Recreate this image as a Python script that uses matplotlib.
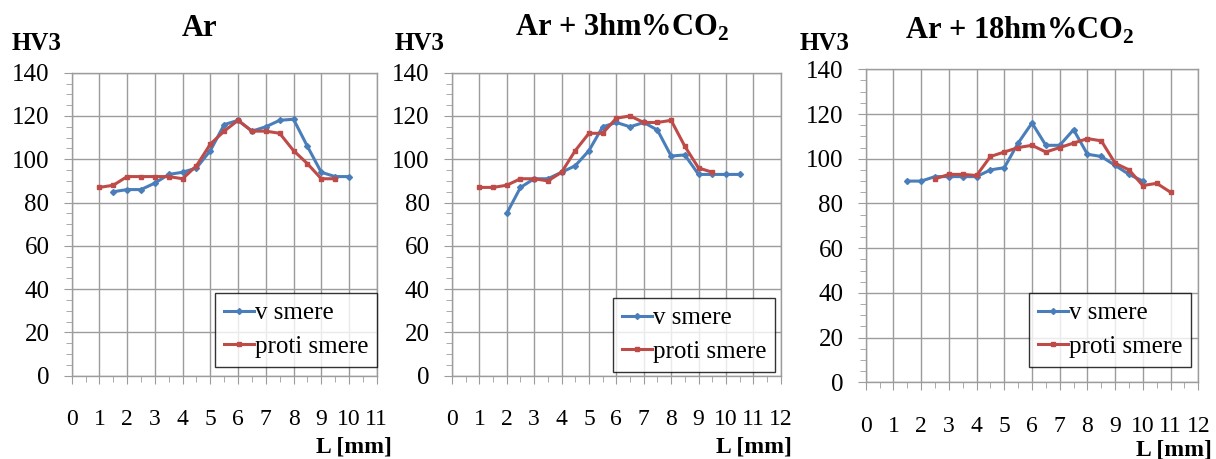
import numpy as np
import matplotlib
matplotlib.use("Agg")
import matplotlib.pyplot as plt
from matplotlib.ticker import MultipleLocator

plt.rcParams['font.family'] = ['Liberation Serif', 'DejaVu Serif']
plt.rcParams['mathtext.fontset'] = 'custom'
plt.rcParams['mathtext.rm'] = 'Liberation Serif'
plt.rcParams['mathtext.bf'] = 'Liberation Serif:bold'

# --- data ---
titles = ['Ar', r'Ar + 3hm%CO$_{\mathbf{2}}$', r'Ar + 18hm%CO$_{\mathbf{2}}$']
xmax = [11, 12, 12]

ar_v_x = [1.5, 2, 2.5, 3, 3.5, 4, 4.5, 5, 5.5, 6, 6.5, 7, 7.5, 8, 8.5, 9, 9.5, 10]
ar_v_y = [85, 86, 86, 89, 93, 94, 96, 104, 116, 118, 113, 115, 118, 118.5, 106, 94, 92, 92]
ar_p_x = [1, 1.5, 2, 2.5, 3, 3.5, 4, 4.5, 5, 5.5, 6, 6.5, 7, 7.5, 8, 8.5, 9, 9.5]
ar_p_y = [87, 88, 92, 92, 92, 92, 91, 97, 107, 113, 118, 113, 113, 112, 104, 98, 91, 91]

co3_v_x = [2, 2.5, 3, 3.5, 4, 4.5, 5, 5.5, 6, 6.5, 7, 7.5, 8, 8.5, 9, 9.5, 10, 10.5]
co3_v_y = [75, 87, 91, 91, 94, 97, 104, 115, 117, 115, 117, 113.5, 101.5, 102, 93, 93, 93, 93]
co3_p_x = [1, 1.5, 2, 2.5, 3, 3.5, 4, 4.5, 5, 5.5, 6, 6.5, 7, 7.5, 8, 8.5, 9, 9.5]
co3_p_y = [87, 87, 88, 91, 91, 90, 94, 104, 112, 112, 119, 120, 117, 117, 118, 106, 96, 94]

co18_v_x = [1.5, 2, 2.5, 3, 3.5, 4, 4.5, 5, 5.5, 6, 6.5, 7, 7.5, 8, 8.5, 9, 9.5, 10]
co18_v_y = [90, 90, 92, 92, 92, 92, 95, 96, 107, 116, 106, 106, 113, 102, 101, 97, 93, 90]
co18_p_x = [2.5, 3, 3.5, 4, 4.5, 5, 5.5, 6, 6.5, 7, 7.5, 8, 8.5, 9, 9.5, 10, 10.5, 11]
co18_p_y = [91, 93, 93, 92.5, 101, 103, 105, 106, 103, 105, 107, 109, 108, 98, 95, 88, 89, 85]

series = [
    (ar_v_x, ar_v_y, ar_p_x, ar_p_y),
    (co3_v_x, co3_v_y, co3_p_x, co3_p_y),
    (co18_v_x, co18_v_y, co18_p_x, co18_p_y),
]

W, H = 1216, 459
fig = plt.figure(figsize=(W / 100, H / 100), dpi=100)


def px(x0, y0, x1, y1):
    # pixel box -> figure fraction rect
    return [x0 / W, 1 - y1 / H, (x1 - x0) / W, (y1 - y0) / H]


boxes = [(71.7, 72.7, 376.7, 375.7), (452, 72.7, 780.7, 375.7), (865.7, 69.3, 1198.3, 382.3)]
title_pos = [(200, 28), (622, 27), (1020, 30)]
hv_pos = [(12, 43), (395, 43), (800, 43)]
l_pos = [(392, 447), (792, 447), (1212, 450)]
leg_pos = [(215, 293), (613, 298), (1029, 293)]

blue = '#4a7ebb'
red = '#be4b48'
grid_c = '#9c9c9c'

for i in range(3):
    ax = fig.add_axes(px(*boxes[i]))
    vx, vy, prx, pry = series[i]
    ax.plot(vx, vy, color=blue, lw=2.2, marker='D', ms=3, label='v smere', zorder=3)
    ax.plot(prx, pry, color=red, lw=2.2, marker='s', ms=3, label='proti smere', zorder=3)
    ax.set_xlim(0, xmax[i])
    ax.set_ylim(0, 140)
    ax.xaxis.set_major_locator(MultipleLocator(1))
    ax.xaxis.set_minor_locator(MultipleLocator(0.5))
    ax.yaxis.set_major_locator(MultipleLocator(20))
    ax.yaxis.set_minor_locator(MultipleLocator(5))
    ax.grid(True, which='major', color=grid_c, lw=1)
    ax.set_axisbelow(True)
    for s in ax.spines.values():
        s.set_color(grid_c)
        s.set_linewidth(1)
    ax.tick_params(axis='both', which='both', colors=grid_c, labelcolor='black', labelsize=18)
    ax.tick_params(axis='x', which='major', length=6, pad=18)
    ax.tick_params(axis='x', which='minor', length=4)
    ax.tick_params(axis='y', which='major', length=6, pad=10)
    ax.tick_params(axis='y', which='minor', length=4)
    for lab in ax.get_xticklabels():
        lab.set_fontsize(17)

    lx, ly = leg_pos[i]
    leg = ax.legend(loc='upper left', bbox_to_anchor=(lx / W, 1 - ly / H),
                    bbox_transform=fig.transFigure, fontsize=18, frameon=True,
                    fancybox=False, edgecolor='black', handlelength=1.2,
                    handletextpad=0.05, borderpad=0.35, labelspacing=0.45,
                    borderaxespad=0)
    leg.get_frame().set_linewidth(1)

    tx, ty = title_pos[i]
    fig.text(tx / W, 1 - ty / H, titles[i], ha='center', va='center',
             fontsize=22, fontweight='bold')
    hx, hy = hv_pos[i]
    fig.text(hx / W, 1 - hy / H, 'HV3', ha='left', va='center',
             fontsize=18, fontweight='bold')
    lx2, ly2 = l_pos[i]
    fig.text(lx2 / W, 1 - ly2 / H, 'L [mm]', ha='right', va='center',
             fontsize=17, fontweight='bold')

fig.savefig('out.png', dpi=100)
